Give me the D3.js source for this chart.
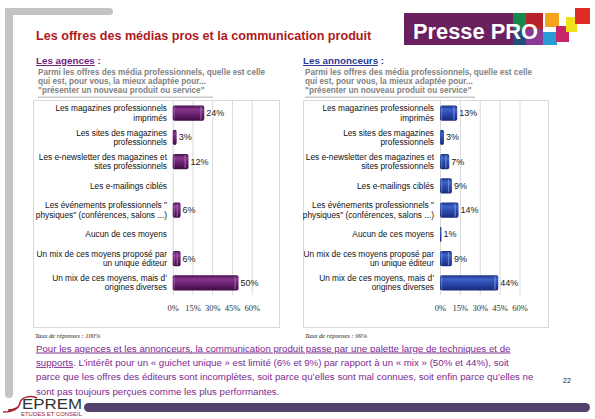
<!DOCTYPE html>
<html><head><meta charset="utf-8">
<script src="https://cdn.jsdelivr.net/npm/d3@7/dist/d3.min.js"></script>
<style>
html,body{margin:0;padding:0;background:#fff;}
svg{display:block;font-family:"Liberation Sans",Arial,sans-serif;}
</style></head><body><svg id="c" width="595" height="419"></svg>
<script>
// ---------- DATA ----------
const categories = [
  "Les magazines professionnels\nimprimés",
  "Les sites des magazines\nprofessionnels",
  "Les e-newsletter des magazines et\nsites professionnels",
  "Les e-mailings ciblés",
  "Les événements professionnels \"\nphysiques\" (conférences, salons ...)",
  "Aucun de ces moyens",
  "Un mix de ces moyens proposé par\nun unique éditeur",
  "Un mix de ces moyens, mais d’\norigines diverses"
];
const agencesValues    = [24, 3, 12, null, 6, null, 6, 50];
const annonceursValues = [13, 3, 7, 9, 14, 1, 9, 44];
const axisTicks = [0, 15, 30, 45, 60];
const axisMax = 60;
const titleText = "Les offres des médias pros et la communication produit";
const questionLines = [
  "Parmi les offres des média professionnels, quelle est celle",
  "qui est, pour vous, la mieux adaptée pour...",
  "\"présenter un nouveau produit ou service\""
];
const paragraphLines = [
  [["Pour les agences et les annonceurs, la communication produit passe par une palette large de techniques et de", true]],
  [["supports", true], [". L’intérêt pour un « guichet unique » est limité (6% et 9%) par rapport à un « mix » (50% et 44%), soit", false]],
  [["parce que les offres des éditeurs sont incomplètes, soit parce qu’elles sont mal connues, soit enfin parce qu’elles ne", false]],
  [["sont pas toujours perçues comme les plus performantes.", false]]
];

// ---------- DRAW ----------
const svg = d3.select("#c");
const defs = svg.append("defs");

// grey frame
svg.append("rect").attr("x",5).attr("y",8).attr("width",108).attr("height",7).attr("rx",3.5).attr("fill","#c4c4c4");
svg.append("rect").attr("x",5).attr("y",8).attr("width",8).attr("height",390).attr("rx",4).attr("fill","#c4c4c4");
svg.append("rect").attr("x",5).attr("y",8).attr("width",8).attr("height",7).attr("fill","#c4c4c4");

// title
svg.append("text").attr("x",36).attr("y",40).attr("font-size",12.6).attr("font-weight","bold")
  .attr("fill","#b0191e").text(titleText);

// Presse PRO logo
const logo = svg.append("g");
logo.append("rect").attr("x",404).attr("y",13).attr("width",109).attr("height",32).attr("fill","#6a1f5e");
[[513,13,13,16,"#138a4a"],[526,13,17,16,"#b5222a"],[513,29,13,16,"#1d4f7a"],[526,29,17,16,"#8a3a95"],
 [545,13,14,14,"#f4a31b"],[543,32,14,13,"#2a9ad6"],[556,26,13,16,"#c8246c"],[566,17,11,15,"#f2e01c"],[575,8,15,16,"#e02b26"]]
 .forEach(d=>logo.append("rect").attr("x",d[0]).attr("y",d[1]).attr("width",d[2]).attr("height",d[3]).attr("fill",d[4]));
logo.append("text").attr("x",413).attr("y",38.5).attr("font-size",22).attr("font-weight","bold")
  .attr("fill","#fff").attr("textLength",125).attr("lengthAdjust","spacingAndGlyphs").text("Presse PRO");

function panel(cfg){
  const g = svg.append("g");
  // heading
  const h = g.append("text").attr("x",cfg.headX).attr("y",64).attr("font-size",9.8).attr("font-weight","bold").attr("fill",cfg.headColor);
  h.append("tspan").attr("text-decoration","underline").text(cfg.heading);
  h.append("tspan").text(" :");
  // question
  questionLines.forEach((t,i)=>{
    g.append("text").attr("x",cfg.headX+2).attr("y",75+i*9).attr("font-size",8.2).attr("font-weight","bold")
      .attr("fill","#828282").text(t);
  });
  g.append("rect").attr("x",cfg.headX+2).attr("y",96.5).attr("width",cfg.ulW).attr("height",1.5).attr("fill","#c8c8c8");

  // box
  g.append("rect").attr("x",cfg.box[0]+0.5).attr("y",100.5).attr("width",cfg.box[1]-cfg.box[0]).attr("height",227)
    .attr("fill","#fff").attr("stroke","#d9d9d9");

  const x = d3.scaleLinear().domain([0,axisMax]).range([cfg.x0,cfg.x1]);
  const y = d3.scaleBand().domain(categories).range([101,295]).paddingInner(0.38).paddingOuter(0.19);

  const ax = d3.axisBottom(x).tickValues(axisTicks).tickFormat(d=>d+"%").tickSize(-(295-101)).tickPadding(10);
  const axG = g.append("g").attr("transform","translate(0,295)").call(ax);
  axG.select(".domain").remove();
  axG.selectAll(".tick line").attr("stroke","#d9d9d9");
  axG.selectAll(".tick text").attr("font-family","'Liberation Serif',serif").attr("font-size",8.5).attr("fill","#333");

  // gradient
  const gid = "grad"+cfg.id;
  const lg = defs.append("linearGradient").attr("id",gid).attr("x1",0).attr("y1",0).attr("x2",0).attr("y2",1);
  cfg.grad.forEach(s=>lg.append("stop").attr("offset",s[0]).attr("stop-color",s[1]));

  const data = categories.map((c,i)=>({c, v: cfg.values[i]}));
  const bw = y.bandwidth();
  data.filter(d=>d.v!=null).forEach(d=>{
    const x0 = x(0), x1 = x(d.v), yy = y(d.c);
    g.append("rect").attr("x",x0).attr("y",yy).attr("width",Math.max(x1-x0,1.5)).attr("height",bw)
      .attr("rx",2).attr("fill",`url(#${gid})`);
    if (x1-x0 > 6) {
      g.append("rect").attr("x",x1-4).attr("y",yy+1).attr("width",1.3).attr("height",bw-2)
        .attr("fill",cfg.capColor).attr("opacity",0.55);
      g.append("rect").attr("x",x0+1).attr("y",yy+1).attr("width",1.3).attr("height",bw-2)
        .attr("fill",cfg.capColor).attr("opacity",0.35);
    }
    g.append("text").attr("x",Math.max(x1,x0+1.5)+2).attr("y",yy+bw/2+3).attr("font-size",9)
      .attr("fill","#222").text(d.v+"%");
  });

  // category labels
  categories.forEach(c=>{
    const lines = c.split("\n");
    const cy = y(c)+bw/2;
    const t = g.append("text").attr("text-anchor","end").attr("font-size",8.3).attr("fill","#111");
    lines.forEach((l,i)=>{
      const base = lines.length===1 ? cy+3 : cy - 1.7 + i*9.3;
      t.append("tspan").attr("x",cfg.labelX).attr("y",base).text(l);
    });
  });

  g.append("text").attr("x",cfg.box[0]+2).attr("y",338).attr("font-size",6.5).attr("font-style","italic")
    .attr("font-family","'Liberation Serif',serif").attr("fill","#222").text(cfg.taux);
}

panel({id:"a", heading:"Les agences", headX:36, headColor:"#74207c", ulW:175, box:[33,279],
  x0:172.7, x1:251.7, labelX:167, values:agencesValues,
  grad:[[0,"#4a0f52"],[0.25,"#86388c"],[0.55,"#6c2173"],[1,"#3e0a45"]], capColor:"#c08ac5",
  taux:"Taux de réponses : 100%"});
panel({id:"b", heading:"Les annonceurs", headX:303, headColor:"#2a3a95", ulW:170, box:[303,548],
  x0:440, x1:519.5, labelX:434, values:annonceursValues,
  grad:[[0,"#1c3286"],[0.25,"#3e62c6"],[0.55,"#2b49ad"],[1,"#172a78"]], capColor:"#9db3ec",
  taux:"Taux de réponses : 99%"});

// paragraph
paragraphLines.forEach((parts,i)=>{
  const t = svg.append("text").attr("x",36).attr("y",351.5+i*14.4).attr("font-size",9.7).attr("fill","#7d2a8f");
  parts.forEach(p=>{
    const ts = t.append("tspan").text(p[0]);
    if (p[1]) ts.attr("text-decoration","underline");
  });
});

svg.append("text").attr("x",563).attr("y",383).attr("font-size",7).attr("fill","#222").text("22");

// bottom bar
svg.append("rect").attr("x",84).attr("y",403).attr("width",506).attr("height",9).attr("rx",4.5).attr("fill","#54426e");

// SEPREM logo
const sp = svg.append("g");
sp.append("path").attr("d","M37,398 C30,395 21,397 20,403 C19,409 12,412 3,412 M20,403 C19,408 15,410 8,410")
  .attr("fill","none").attr("stroke","#a8232c").attr("stroke-width",1.5);
sp.append("text").attr("x",22).attr("y",408.5).attr("font-size",14.5).attr("fill","#333")
  .attr("textLength",60).attr("lengthAdjust","spacingAndGlyphs").text("EPREM");
sp.append("text").attr("x",21).attr("y",416).attr("font-size",5).attr("fill","#a8232c")
  .attr("textLength",61).attr("lengthAdjust","spacingAndGlyphs").text("ETUDES ET CONSEIL");
</script></body></html>
